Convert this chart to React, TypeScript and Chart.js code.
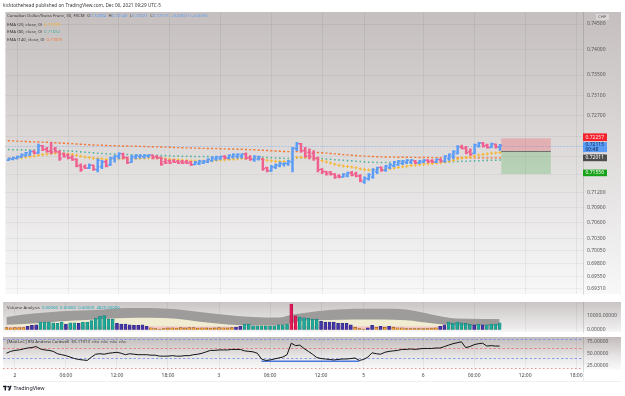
import React, { useEffect, useRef } from "react";
import { Chart, registerables } from "chart.js";

Chart.register(...registerables);

const FONT = '"Noto Sans", "DejaVu Sans", sans-serif';
const UP = "#5b9cf6";
const DOWN = "#f0608f";
const EMA20_COLOR = "#f7b52c";
const EMA80_COLOR = "#4fb39e";
const EMA140_COLOR = "#f27a38";
const TEXT_DARK = "#3a3a3a";

const PAD_L = 3;
const PAD_R = 4;
const AXIS_W = 38;
const X_MIN = -2.8;
const X_MAX = 133.6;

const HEADER = "kicktothehead published on TradingView.com, Dec 06, 2021 09:29 UTC-5";
const SYMBOL = "Canadian Dollar/Swiss Franc, 30, FXCM";

// 30-minute CAD/CHF bars; bar index 0 = Dec 2, 00:00
const FIRST_BAR = -2;
const opens = [
  0.7183, 0.71845, 0.71862, 0.71885, 0.71915, 0.7193, 0.72, 0.7197, 0.7211, 0.72045,
  0.7201, 0.7205, 0.7199, 0.7195, 0.7193, 0.7188, 0.7185, 0.7173, 0.717, 0.71675,
  0.7173, 0.7164, 0.717, 0.718, 0.7174, 0.7186, 0.719, 0.7195, 0.7188, 0.7179,
  0.7188, 0.719, 0.71895, 0.71905, 0.71925, 0.719, 0.7188, 0.718, 0.7182, 0.71815,
  0.7181, 0.71805, 0.718, 0.7179, 0.71745, 0.7176, 0.71775, 0.7179, 0.7182, 0.7185,
  0.7186, 0.719, 0.7187, 0.7189, 0.719, 0.71905, 0.7195, 0.7188, 0.7184, 0.7185,
  0.7185, 0.7168, 0.7162, 0.7169, 0.7172, 0.7175, 0.7176, 0.7179, 0.7206, 0.7215,
  0.7202, 0.7198, 0.7196, 0.7187, 0.7165, 0.71605, 0.7159, 0.7156, 0.7152, 0.715,
  0.7152, 0.7158, 0.7156, 0.7152, 0.714, 0.7146, 0.715, 0.716, 0.7169, 0.7163,
  0.7168, 0.7172, 0.7174, 0.7177, 0.7178, 0.7179, 0.71815, 0.7178, 0.7179, 0.7183,
  0.7182, 0.71795, 0.7184, 0.7181, 0.7186, 0.719, 0.7196, 0.7209, 0.7207, 0.72,
  0.71965, 0.721, 0.72165, 0.7212, 0.7208, 0.7214, 0.72084,
];
const highs = [
  0.71872, 0.71888, 0.71908, 0.71953, 0.71985, 0.72017, 0.72017, 0.72146, 0.72114, 0.72082,
  0.72179, 0.72082, 0.72017, 0.71972, 0.71953, 0.71921, 0.71856, 0.71759, 0.7174, 0.71759,
  0.71735, 0.71856, 0.71824, 0.71824, 0.71888, 0.71921, 0.71972, 0.7197, 0.71888, 0.71921,
  0.71934, 0.71934, 0.71934, 0.71934, 0.7193, 0.71921, 0.71888, 0.71856, 0.71837, 0.71843,
  0.71824, 0.71824, 0.71824, 0.71805, 0.71805, 0.71824, 0.71824, 0.71856, 0.71888, 0.71908,
  0.71908, 0.71921, 0.71934, 0.71953, 0.71953, 0.71953, 0.71972, 0.71921, 0.71921, 0.71908,
  0.7186, 0.71695, 0.71727, 0.71759, 0.71792, 0.71779, 0.71824, 0.72082, 0.72179, 0.7216,
  0.72082, 0.7205, 0.72017, 0.71888, 0.71663, 0.7161, 0.71611, 0.71566, 0.71547, 0.71566,
  0.71598, 0.71611, 0.71598, 0.71547, 0.71501, 0.71566, 0.71663, 0.71695, 0.71695, 0.71727,
  0.71759, 0.71805, 0.71824, 0.71824, 0.71843, 0.71843, 0.71824, 0.71824, 0.71843, 0.71843,
  0.71843, 0.71856, 0.71856, 0.71921, 0.71953, 0.72017, 0.72114, 0.72127, 0.72101, 0.7205,
  0.72146, 0.72179, 0.72179, 0.72146, 0.72166, 0.72146, 0.7214,
];
const lows = [
  0.71824, 0.71836, 0.71856, 0.71882, 0.71908, 0.71921, 0.71953, 0.7196, 0.72017, 0.71985,
  0.71953, 0.71985, 0.71824, 0.71888, 0.71856, 0.71824, 0.71695, 0.71611, 0.71663, 0.71663,
  0.7163, 0.71598, 0.71663, 0.71695, 0.71727, 0.71792, 0.71856, 0.71856, 0.71759, 0.71785,
  0.71856, 0.71869, 0.71869, 0.71882, 0.71856, 0.71856, 0.71727, 0.71759, 0.71759, 0.71779,
  0.71759, 0.71759, 0.71759, 0.71727, 0.7174, 0.7174, 0.71759, 0.71779, 0.71805, 0.71824,
  0.71843, 0.71856, 0.71856, 0.71869, 0.71869, 0.71869, 0.71843, 0.71824, 0.71805, 0.7183,
  0.7163, 0.71598, 0.71611, 0.71663, 0.71695, 0.71714, 0.71727, 0.71598, 0.72017, 0.71985,
  0.71888, 0.71856, 0.71824, 0.71598, 0.71566, 0.71534, 0.71534, 0.71469, 0.71482, 0.71495,
  0.71501, 0.71521, 0.71501, 0.71405, 0.71372, 0.71437, 0.71469, 0.71566, 0.71611, 0.71611,
  0.71663, 0.71695, 0.71727, 0.7174, 0.71759, 0.71759, 0.71759, 0.71759, 0.71779, 0.71779,
  0.71779, 0.71779, 0.71792, 0.71792, 0.71824, 0.71856, 0.71953, 0.7205, 0.71953, 0.71921,
  0.7195, 0.72082, 0.72082, 0.72063, 0.72075, 0.72063, 0.72021,
];
const closes = [
  0.7186, 0.71875, 0.719, 0.7194, 0.71975, 0.72, 0.71965, 0.7211, 0.7204, 0.72,
  0.7199, 0.71995, 0.7186, 0.719, 0.7187, 0.7184, 0.7171, 0.7164, 0.7167, 0.7173,
  0.7165, 0.7183, 0.718, 0.7171, 0.7187, 0.7191, 0.7196, 0.7188, 0.7178, 0.71905,
  0.71925, 0.7192, 0.71925, 0.7193, 0.7188, 0.7187, 0.7175, 0.71775, 0.71775, 0.7179,
  0.7177, 0.71775, 0.7177, 0.7174, 0.7179, 0.7181, 0.71815, 0.71845, 0.7188, 0.71895,
  0.719, 0.7187, 0.71925, 0.7194, 0.71945, 0.71945, 0.7187, 0.7185, 0.719, 0.71895,
  0.7166, 0.7162, 0.717, 0.7174, 0.7177, 0.7177, 0.7181, 0.7206, 0.7215, 0.7201,
  0.7191, 0.719, 0.7186, 0.7164, 0.716, 0.7156, 0.71555, 0.7149, 0.715, 0.71555,
  0.71585, 0.7154, 0.7152, 0.7143, 0.7148, 0.7155, 0.7164, 0.7168, 0.7163, 0.71715,
  0.71745, 0.7179, 0.7181, 0.71815, 0.7183, 0.71835, 0.7178, 0.71815, 0.7183, 0.718,
  0.71795, 0.71845, 0.7181, 0.71905, 0.7194, 0.72, 0.72095, 0.7206, 0.71975, 0.7194,
  0.7213, 0.72165, 0.721, 0.7208, 0.7215, 0.72094, 0.72115,
];

const ema20 = [
  0.71856, 0.71862, 0.7187, 0.71878, 0.71888, 0.719, 0.7191, 0.71926, 0.71938, 0.71948,
  0.7196, 0.71966, 0.71965, 0.71958, 0.7195, 0.71942, 0.71926, 0.71908, 0.71892, 0.7188,
  0.71866, 0.71862, 0.71856, 0.71846, 0.71848, 0.71852, 0.71858, 0.7186, 0.71852, 0.71855,
  0.71861, 0.71866, 0.71871, 0.71876, 0.71876, 0.71875, 0.71864, 0.71855, 0.71848, 0.71842,
  0.71835, 0.71829, 0.71823, 0.71814, 0.71811, 0.71811, 0.71811, 0.71814, 0.7182, 0.71827,
  0.71834, 0.71837, 0.71843, 0.7185, 0.71857, 0.71863, 0.71864, 0.71863, 0.71867, 0.71869,
  0.7185, 0.71828, 0.71816, 0.71809, 0.71806, 0.71803, 0.71805, 0.71843, 0.71887, 0.71886,
  0.71882, 0.71878, 0.7187, 0.71842, 0.71818, 0.71794, 0.71772, 0.7175, 0.71729, 0.71715,
  0.71705, 0.71693, 0.7168, 0.7166, 0.71643, 0.71637, 0.7164, 0.71645, 0.71646, 0.71653,
  0.71662, 0.71675, 0.71688, 0.717, 0.71712, 0.71724, 0.71732, 0.71741, 0.71751, 0.71758,
  0.71764, 0.71773, 0.71779, 0.71792, 0.71808, 0.71826, 0.71852, 0.71873, 0.71883, 0.71889,
  0.71908, 0.71929, 0.71943, 0.71953, 0.71966, 0.7197, 0.71979,
];
const ema80 = [
  0.72037, 0.72035, 0.72033, 0.72031, 0.7203, 0.72028, 0.72027, 0.72026, 0.72025, 0.72024,
  0.72022, 0.7202, 0.72017, 0.72013, 0.72009, 0.72004, 0.71999, 0.71992, 0.71985, 0.71978,
  0.71972, 0.71966, 0.71961, 0.71956, 0.71952, 0.71948, 0.71945, 0.71942, 0.71939, 0.71937,
  0.71934, 0.71932, 0.7193, 0.71928, 0.71926, 0.71924, 0.71921, 0.71918, 0.71915, 0.71912,
  0.7191, 0.71908, 0.71906, 0.71904, 0.71902, 0.71901, 0.719, 0.71899, 0.71898, 0.71898,
  0.71897, 0.71897, 0.71896, 0.71896, 0.71896, 0.71895, 0.71895, 0.71894, 0.71893, 0.7189,
  0.71886, 0.71881, 0.71876, 0.71872, 0.71869, 0.71866, 0.71864, 0.71868, 0.71874, 0.71877,
  0.71877, 0.71876, 0.71873, 0.71867, 0.7186, 0.71853, 0.71846, 0.71839, 0.71832, 0.71826,
  0.7182, 0.71815, 0.7181, 0.71803, 0.71796, 0.7179, 0.71787, 0.71785, 0.71783, 0.71782,
  0.71781, 0.71781, 0.71781, 0.71782, 0.71783, 0.71784, 0.71784, 0.71785, 0.71786, 0.71787,
  0.71787, 0.71788, 0.71789, 0.71791, 0.71794, 0.71798, 0.71803, 0.71807, 0.7181, 0.71812,
  0.71815, 0.71819, 0.71822, 0.71825, 0.71827, 0.71829, 0.71832,
];
const ema140 = [
  0.72211, 0.72207, 0.72203, 0.72199, 0.72196, 0.72192, 0.72188, 0.72186, 0.72183, 0.7218,
  0.72177, 0.72172, 0.72166, 0.72161, 0.72157, 0.72153, 0.72148, 0.72143, 0.72138, 0.72133,
  0.72128, 0.72124, 0.72121, 0.72118, 0.72115, 0.72112, 0.7211, 0.72108, 0.72106, 0.72104,
  0.72101, 0.72099, 0.72097, 0.72095, 0.72093, 0.72091, 0.72088, 0.72085, 0.72082, 0.72079,
  0.72076, 0.72073, 0.7207, 0.72067, 0.72065, 0.72063, 0.72061, 0.72059, 0.72057, 0.72055,
  0.72053, 0.72051, 0.72049, 0.72047, 0.72045, 0.72043, 0.7204, 0.72037, 0.72034, 0.7203,
  0.72025, 0.72019, 0.72014, 0.72009, 0.72004, 0.72, 0.71996, 0.71996, 0.71997, 0.71996,
  0.71993, 0.7199, 0.71986, 0.7198, 0.71974, 0.71967, 0.7196, 0.71953, 0.71946, 0.71939,
  0.71933, 0.71927, 0.71921, 0.71914, 0.71908, 0.71903, 0.719, 0.71897, 0.71894, 0.71892,
  0.7189, 0.71889, 0.71888, 0.71887, 0.71886, 0.71885, 0.71884, 0.71883, 0.71882, 0.71881,
  0.7188, 0.71879, 0.71878, 0.71877, 0.71877, 0.71876, 0.71876, 0.71876, 0.71876, 0.71875,
  0.71875, 0.71875, 0.71875, 0.71875, 0.71875, 0.71875, 0.71875,
];

// Volume Analysis: bar volume and its class (o = low, p = below average, t = above average, r = climax)
const volumes = [
  1500, 1400, 1500, 1600, 1500, 2400, 3000, 3400, 5300, 5300,
  5300, 4750, 4360, 5330, 3970, 4750, 4750, 4360, 5330, 5330,
  6300, 7850, 9200, 9770, 7270, 7270, 4360, 3970, 3970, 3390,
  3000, 3000, 3390, 2420, 1450, 900, 500, 900, 1300, 1450,
  1200, 1500, 1300, 1600, 1500, 1200, 1400, 1300, 1200, 1300,
  1500, 1400, 1300, 1500, 1840, 2420, 3970, 3970, 2810, 2810,
  2810, 2810, 2810, 2810, 3390, 3390, 3970, 17500, 9500, 8620,
  8240, 7850, 7270, 7270, 5910, 5330, 5330, 5330, 4360, 4360,
  4360, 3390, 1840, 870, 480, 1450, 3000, 1840, 2420, 1840,
  2420, 1840, 1450, 1450, 870, 870, 870, 870, 870, 870,
  1260, 1450, 2420, 3390, 5330, 4360, 5330, 4750, 4360, 3780,
  3390, 3970, 3390, 3390, 3970, 3970, 4825,
];
const volumeKinds = [
  "o", "o", "o", "o", "o", "p", "p", "p", "t", "t",
  "t", "t", "t", "t", "p", "t", "t", "p", "t", "t",
  "t", "t", "t", "t", "t", "t", "p", "p", "p", "p",
  "p", "p", "p", "p", "o", "o", "o", "o", "o", "o",
  "o", "o", "o", "o", "o", "o", "o", "o", "o", "o",
  "o", "o", "o", "o", "p", "p", "t", "t", "t", "t",
  "t", "t", "t", "t", "t", "t", "t", "r", "r", "t",
  "t", "t", "t", "t", "p", "p", "p", "p", "p", "p",
  "p", "p", "o", "o", "o", "p", "p", "o", "p", "o",
  "p", "o", "o", "o", "o", "o", "o", "o", "o", "o",
  "o", "o", "p", "p", "t", "t", "t", "t", "t", "t",
  "p", "t", "p", "t", "t", "t", "t",
];
const bandIdx = [-2, 2, 8, 14, 20, 26, 32, 38, 44, 50, 56, 62, 65, 68, 74, 80, 86, 92, 98, 104, 110, 114];
const bandUpper = [8800, 10400, 12000, 12900, 13700, 14800, 14900, 14000, 12000, 10100, 8700, 8400, 10300, 11500, 13500, 14300, 14400, 13800, 10500, 7700, 7400, 7300];
const bandMid = [3500, 4000, 5200, 6300, 7200, 8100, 8200, 7500, 5300, 3700, 3000, 2900, 4500, 6300, 6700, 7100, 7100, 6500, 4500, 3000, 2800, 2800];
const bandLow = [2300, 2300, 2400, 2400, 2500, 2500, 2400, 2300, 2200, 2200, 2200, 2300, 2400, 2500, 2500, 2400, 2400, 2300, 2300, 2300, 2300, 2300];

// RSI (Andrew Cardwell)
const rsiValues = [
  50, 54, 56, 57, 59, 61, 62, 64, 59, 57,
  56, 54, 49, 47, 45, 42, 39, 37, 36, 35,
  42, 48, 49, 48, 50, 51, 52, 50, 47, 49,
  48, 47, 47, 47, 46, 46, 44, 44, 44, 45,
  44, 44, 45, 45, 47, 48, 50, 53, 56, 56,
  57, 57, 57, 58, 58, 58, 55, 54, 53, 50,
  38, 35, 36, 38, 40, 42, 47, 71, 66, 67,
  60, 54, 48, 41, 39, 38, 37, 36, 37, 38,
  38, 39, 40, 35, 37, 42, 51, 49, 48, 52,
  54, 55, 56, 58, 58, 59, 58, 59, 60, 60,
  60, 61, 61, 64, 67, 70, 72, 74, 62, 64,
  68, 70, 71, 65, 66, 65, 65.11913,
];
const rsiLevels = [80, 60, 40, 20];
const rsiLevelColors = ["#6f8fe6", "#e57373", "#6f8fe6", "#e57373"];
const rsiFloorSpan = [58, 81];
const rsiFloorValue = 33.3;

// axes
const priceTicks = [0.745, 0.74, 0.735, 0.731, 0.727, 0.723, 0.719, 0.7155, 0.712, 0.709, 0.706, 0.703, 0.7005, 0.698, 0.6955, 0.6931];
const volumeTicks = [0, 10000];
const rsiTicks = [25, 50, 75];
const timeTickIdx = [0, 12, 24, 36, 48, 60, 72, 82, 96, 108, 120, 132];
const timeTickLabels = ["2", "06:00", "12:00", "18:00", "3", "06:00", "12:00", "5", "6", "06:00", "12:00", "18:00"];

// short position tool
const positionSpan = [114.3, 126];
const stopPrice = 0.72257;
const entryPrice = 0.72011;
const targetPrice = 0.71556;
const countdown = "00:48";

const barIdx = closes.map((_, k) => k + FIRST_BAR);
const last = closes.length - 1;

const VOL_COLORS: Record<string, string> = { o: "#f2a53a", p: "#4238a8", t: "#1fa89a", r: "#e3185a" };
const VOL_BORDERS: Record<string, string> = { o: "#7a4a12", p: "#2c2680", t: "#1a7f7a", r: "#a8103f" };

function runs(ctx: CanvasRenderingContext2D, x: number, y: number, parts: [string, string][]) {
  let cx = x;
  for (const [t, c] of parts) {
    ctx.fillStyle = c;
    ctx.fillText(t, cx, y);
    cx += ctx.measureText(t).width;
  }
}

function paneGradient(chart: any, stops: [number, string][]) {
  const { ctx, chartArea: a } = chart;
  const g = ctx.createLinearGradient(0, a.top, 0, a.bottom);
  stops.forEach(([p, c]) => g.addColorStop(p, c));
  ctx.save();
  ctx.fillStyle = g;
  ctx.fillRect(a.left, a.top, a.right - a.left + AXIS_W, a.bottom - a.top);
  ctx.restore();
}

const timeAxis = (showLabels: boolean, height: number) => ({
  type: "linear",
  min: X_MIN,
  max: X_MAX,
  offset: false,
  afterBuildTicks: (s: any) => {
    s.ticks = timeTickIdx.map((v) => ({ value: v }));
  },
  afterFit: (s: any) => {
    s.height = height;
  },
  grid: { color: "rgba(0,0,0,0.05)", drawTicks: false, offset: false },
  border: { display: false },
  ticks: {
    display: showLabels,
    autoSkip: false,
    maxRotation: 0,
    padding: 3,
    color: "#444",
    font: { family: FONT, size: 5 },
    callback: (_v: any, i: number) => timeTickLabels[i],
  },
});

const valueAxis = (min: number, max: number, ticks: number[], showGrid: boolean) => ({
  type: "linear",
  position: "right",
  min,
  max,
  beginAtZero: false,
  afterBuildTicks: (s: any) => {
    s.ticks = ticks.map((v) => ({ value: v }));
  },
  afterFit: (s: any) => {
    s.width = AXIS_W;
  },
  grid: { display: showGrid, color: "rgba(0,0,0,0.045)", drawTicks: false },
  border: { display: true, color: "rgba(0,0,0,0.12)" },
  ticks: {
    padding: 4,
    color: "#555",
    font: { family: FONT, size: 5 },
    callback: (v: any) => Number(v).toFixed(5),
  },
});

const baseOptions = {
  responsive: false,
  animation: false,
  events: [],
  devicePixelRatio: 1,
  plugins: { legend: { display: false }, tooltip: { enabled: false } },
};

const mainPane = {
  id: "mainPane",
  beforeDraw(chart: any) {
    paneGradient(chart, [
      [0, "#c5bfbf"],
      [0.45, "#dcd8d8"],
      [1, "#f8f8f8"],
    ]);
    const { ctx } = chart;
    ctx.save();
    ctx.font = `4.7px ${FONT}`;
    ctx.textBaseline = "middle";
    ctx.fillStyle = TEXT_DARK;
    ctx.fillText(HEADER, 3, 5.5);
    ctx.restore();
  },
  beforeDatasetsDraw(chart: any) {
    const { ctx, chartArea: a, scales } = chart;
    const py = Math.round(scales.y.getPixelForValue(closes[last])) + 0.5;
    ctx.save();
    ctx.strokeStyle = "rgba(91,156,246,0.45)";
    ctx.setLineDash([1.5, 1.5]);
    ctx.lineWidth = 1;
    ctx.beginPath();
    ctx.moveTo(a.left, py);
    ctx.lineTo(a.right, py);
    ctx.stroke();
    ctx.restore();
  },
  afterDatasetsDraw(chart: any) {
    const { ctx, scales } = chart;
    const { x, y } = scales;
    ctx.save();
    // open / close ticks of the OHLC bars
    ctx.lineWidth = 1.5;
    for (let k = 0; k < closes.length; k++) {
      const px = x.getPixelForValue(barIdx[k]);
      const yo = y.getPixelForValue(opens[k]);
      const yc = y.getPixelForValue(closes[k]);
      ctx.strokeStyle = closes[k] >= opens[k] ? UP : DOWN;
      ctx.beginPath();
      ctx.moveTo(px - 2.2, yo);
      ctx.lineTo(px, yo);
      ctx.moveTo(px, yc);
      ctx.lineTo(px + 2.2, yc);
      ctx.stroke();
    }
    // short position box
    const xs = x.getPixelForValue(positionSpan[0]);
    const xe = x.getPixelForValue(positionSpan[1]);
    const yStop = y.getPixelForValue(stopPrice);
    const yEntry = y.getPixelForValue(entryPrice);
    const yTarget = y.getPixelForValue(targetPrice);
    ctx.fillStyle = "rgba(242,54,69,0.25)";
    ctx.fillRect(xs, yStop, xe - xs, yEntry - yStop);
    ctx.fillStyle = "rgba(76,175,80,0.28)";
    ctx.fillRect(xs, yEntry, xe - xs, yTarget - yEntry);
    ctx.strokeStyle = "#707070";
    ctx.lineWidth = 1;
    ctx.beginPath();
    ctx.moveTo(xs, Math.round(yEntry) + 0.5);
    ctx.lineTo(xe, Math.round(yEntry) + 0.5);
    ctx.stroke();
    ctx.restore();
  },
  afterDraw(chart: any) {
    const { ctx, chartArea: a, scales } = chart;
    const y = scales.y;
    const tx = a.right;
    const tw = 24;
    ctx.save();
    ctx.font = `5px ${FONT}`;
    ctx.textBaseline = "middle";
    const tag = (top: number, h: number, bg: string, fg: string, lines: string[]) => {
      ctx.fillStyle = bg;
      ctx.fillRect(tx, top, tw, h);
      ctx.fillStyle = fg;
      lines.forEach((t, i) => ctx.fillText(t, tx + 2.5, top + h / (2 * lines.length) + (i * h) / lines.length));
    };
    const yS = y.getPixelForValue(stopPrice);
    const yL = y.getPixelForValue(closes[last]);
    const yE = y.getPixelForValue(entryPrice);
    const yT = y.getPixelForValue(targetPrice);
    tag(yS - 5, 7.7, "#f5222d", "#ffe4e4", [stopPrice.toFixed(5)]);
    const blueTop = yL - 3.5;
    tag(blueTop, 10, UP, "#102a55", [closes[last].toFixed(5), countdown]);
    tag(Math.max(yE - 3.3, blueTop + 12.5), 6.6, "#4d4d4d", "#ffffff", [entryPrice.toFixed(5)]);
    tag(yT - 4.5, 6.6, "#18a218", "#ffffff", [targetPrice.toFixed(5)]);

    // currency badge
    ctx.fillStyle = "rgba(255,255,255,0.35)";
    ctx.fillRect(596, a.top + 2, 13, 6);
    ctx.fillStyle = "#555";
    ctx.font = `4.3px ${FONT}`;
    ctx.fillText("CHF", 598, a.top + 5);

    // legend
    ctx.font = `4.3px ${FONT}`;
    const chg = closes[last] - closes[last - 1];
    const pct = (chg / closes[last - 1]) * 100;
    runs(ctx, 7, 16, [
      [SYMBOL + "  ", TEXT_DARK],
      ["O", TEXT_DARK],
      [opens[last].toFixed(5), UP],
      ["  H", TEXT_DARK],
      [highs[last].toFixed(5), UP],
      ["  L", TEXT_DARK],
      [lows[last].toFixed(5), UP],
      ["  C", TEXT_DARK],
      [closes[last].toFixed(5), UP],
      [`  ${chg >= 0 ? "+" : ""}${chg.toFixed(5)} (${chg >= 0 ? "+" : ""}${pct.toFixed(2)}%)`, UP],
    ]);
    runs(ctx, 7, 24.3, [["EMA (20, close, 0)  ", TEXT_DARK], [ema20[last].toFixed(5), EMA20_COLOR]]);
    runs(ctx, 7, 31.8, [["EMA (80, close, 0)  ", TEXT_DARK], [ema80[last].toFixed(5), EMA80_COLOR]]);
    runs(ctx, 7, 39.3, [["EMA (140, close, 0)  ", TEXT_DARK], [ema140[last].toFixed(5), EMA140_COLOR]]);
    ctx.restore();
  },
};

function mainConfig(): any {
  const pts = (arr: number[]) => arr.map((v, k) => ({ x: barIdx[k], y: v }));
  return {
    type: "bar",
    data: {
      datasets: [
        {
          type: "bar",
          order: 0,
          data: barIdx.map((x, k) => ({ x, y: [lows[k], highs[k]] })),
          backgroundColor: closes.map((c, k) => (c >= opens[k] ? UP : DOWN)),
          barThickness: 1.8,
          borderWidth: 0,
        },
        {
          type: "line",
          order: 1,
          data: pts(ema20),
          showLine: false,
          pointStyle: "cross",
          pointRadius: 1.6,
          pointBorderWidth: 1,
          pointBorderColor: EMA20_COLOR,
          pointBackgroundColor: EMA20_COLOR,
        },
        {
          type: "line",
          order: 2,
          data: pts(ema80),
          showLine: false,
          pointStyle: "rect",
          pointRadius: 1.1,
          pointBorderWidth: 0,
          pointBorderColor: EMA80_COLOR,
          pointBackgroundColor: EMA80_COLOR,
        },
        {
          type: "line",
          order: 3,
          data: pts(ema140),
          showLine: false,
          pointStyle: "line",
          pointRadius: 1.1,
          pointBorderWidth: 1.4,
          pointBorderColor: EMA140_COLOR,
          pointBackgroundColor: EMA140_COLOR,
        },
      ],
    },
    options: {
      ...baseOptions,
      layout: { padding: { left: PAD_L, right: PAD_R, top: 12, bottom: 3 } },
      scales: {
        x: timeAxis(false, 0),
        y: valueAxis(0.69204, 0.74736, priceTicks, true),
      },
    },
    plugins: [mainPane],
  };
}

const volumePane = {
  id: "volumePane",
  beforeDraw(chart: any) {
    paneGradient(chart, [
      [0, "#cbc5c5"],
      [0.85, "#ecebeb"],
      [1, "#f7f7f7"],
    ]);
  },
  afterDraw(chart: any) {
    const { ctx, chartArea: a } = chart;
    ctx.save();
    ctx.font = `4.3px ${FONT}`;
    ctx.textBaseline = "middle";
    runs(ctx, 7, a.top + 6, [
      ["Volume Analysis  ", TEXT_DARK],
      [`0.00000  0.00000  0.00000  ${volumes[last].toFixed(5)}`, "#22a9b5"],
    ]);
    ctx.restore();
  },
};

function volumeConfig(): any {
  const band = (vals: number[]) => vals.map((v, k) => ({ x: bandIdx[k], y: v }));
  const bandSet = (vals: number[], color: string, order: number) => ({
    type: "line",
    order,
    data: band(vals),
    borderWidth: 0,
    borderColor: color,
    backgroundColor: color,
    fill: "origin",
    pointRadius: 0,
    cubicInterpolationMode: "monotone",
  });
  return {
    type: "bar",
    data: {
      datasets: [
        {
          type: "bar",
          order: 0,
          data: barIdx.map((x, k) => ({ x, y: volumes[k] })),
          backgroundColor: volumeKinds.map((c) => VOL_COLORS[c]),
          borderColor: volumeKinds.map((c) => VOL_BORDERS[c]),
          borderWidth: 0.6,
          barThickness: 3,
        },
        bandSet(bandLow, "#f3c8c8", 1),
        bandSet(bandMid, "#f1edd2", 2),
        bandSet(bandUpper, "#9e9b9b", 3),
      ],
    },
    options: {
      ...baseOptions,
      layout: { padding: { left: PAD_L, right: PAD_R, top: 5, bottom: 4 } },
      scales: {
        x: timeAxis(false, 0),
        y: valueAxis(-1450, 18900, volumeTicks, false),
      },
    },
    plugins: [volumePane],
  };
}

const rsiPane = {
  id: "rsiPane",
  beforeDraw(chart: any) {
    paneGradient(chart, [
      [0, "#c3bbbb"],
      [0.6, "#e8e6e6"],
      [1, "#fbfbfb"],
    ]);
  },
  beforeDatasetsDraw(chart: any) {
    const { ctx, chartArea: a, scales } = chart;
    ctx.save();
    ctx.lineWidth = 0.8;
    rsiLevels.forEach((lv, i) => {
      const py = Math.round(scales.y.getPixelForValue(lv)) + 0.5;
      ctx.strokeStyle = rsiLevelColors[i];
      ctx.setLineDash(i === 3 ? [1.5, 2.5] : [2.5, 2]);
      ctx.beginPath();
      ctx.moveTo(a.left, py);
      ctx.lineTo(a.right, py);
      ctx.stroke();
    });
    ctx.restore();
  },
  afterDraw(chart: any) {
    const { ctx, chartArea: a } = chart;
    ctx.save();
    // time axis row under the price-axis column stays blank
    ctx.fillStyle = "#ffffff";
    ctx.fillRect(a.right + 0.5, a.bottom, AXIS_W, 11);
    ctx.fillStyle = "rgba(0,0,0,0.10)";
    ctx.fillRect(a.right, a.bottom, 0.8, 11);
    ctx.fillRect(a.left, a.bottom + 11, a.right - a.left + AXIS_W, 0.6);
    ctx.font = `4.3px ${FONT}`;
    ctx.textBaseline = "middle";
    runs(ctx, 7, a.top + 5, [
      ["[MattLeC] RSI Andrew Cardwell  ", TEXT_DARK],
      [`${rsiValues[last].toFixed(5)}  n/a  n/a  n/a  n/a`, TEXT_DARK],
    ]);
    // footer mark
    const fy = a.bottom + 18;
    ctx.fillStyle = "#131722";
    ctx.fillRect(3, fy - 2.2, 3.6, 1.4);
    ctx.fillRect(4.6, fy - 2.2, 1.4, 4.6);
    ctx.beginPath();
    ctx.arc(8.2, fy - 1.3, 0.9, 0, Math.PI * 2);
    ctx.fill();
    ctx.beginPath();
    ctx.moveTo(9.8, fy - 2.2);
    ctx.lineTo(11.6, fy - 2.2);
    ctx.lineTo(9.9, fy + 2.4);
    ctx.lineTo(8.1, fy + 2.4);
    ctx.closePath();
    ctx.fill();
    ctx.font = `5.4px ${FONT}`;
    ctx.fillText("TradingView", 13.5, fy + 0.2);
    ctx.restore();
  },
};

function rsiConfig(): any {
  return {
    type: "line",
    data: {
      datasets: [
        {
          type: "line",
          order: 0,
          data: barIdx.map((x, k) => ({ x, y: rsiValues[k] })),
          borderColor: "#111111",
          borderWidth: 1,
          pointRadius: 0,
          fill: false,
        },
        {
          type: "line",
          order: 1,
          data: rsiFloorSpan.map((x) => ({ x, y: rsiFloorValue })),
          borderColor: "#4a78e0",
          borderWidth: 1.3,
          pointRadius: 0,
          fill: false,
        },
      ],
    },
    options: {
      ...baseOptions,
      layout: { padding: { left: PAD_L, right: PAD_R, top: 6, bottom: 15 } },
      scales: {
        x: timeAxis(true, 11),
        y: valueAxis(15, 84, rsiTicks, false),
      },
    },
    plugins: [rsiPane],
  };
}

export default function App() {
  const mainRef = useRef<HTMLCanvasElement>(null);
  const volRef = useRef<HTMLCanvasElement>(null);
  const rsiRef = useRef<HTMLCanvasElement>(null);

  useEffect(() => {
    const charts = [
      new Chart(mainRef.current as HTMLCanvasElement, mainConfig()),
      new Chart(volRef.current as HTMLCanvasElement, volumeConfig()),
      new Chart(rsiRef.current as HTMLCanvasElement, rsiConfig()),
    ];
    return () => charts.forEach((c) => c.destroy());
  }, []);

  const abs = (top: number, h: number): React.CSSProperties => ({
    position: "absolute",
    left: 0,
    top,
    width: 625,
    height: h,
  });

  return (
    <div
      style={{
        position: "fixed",
        left: 0,
        top: 0,
        width: 625,
        height: 396,
        background: "#ffffff",
        overflow: "hidden",
      }}
    >
      <canvas ref={mainRef} width={625} height={301} style={abs(0, 301)} />
      <canvas ref={volRef} width={625} height={44} style={abs(295, 44)} />
      <canvas ref={rsiRef} width={625} height={66} style={abs(330, 66)} />
    </div>
  );
}
